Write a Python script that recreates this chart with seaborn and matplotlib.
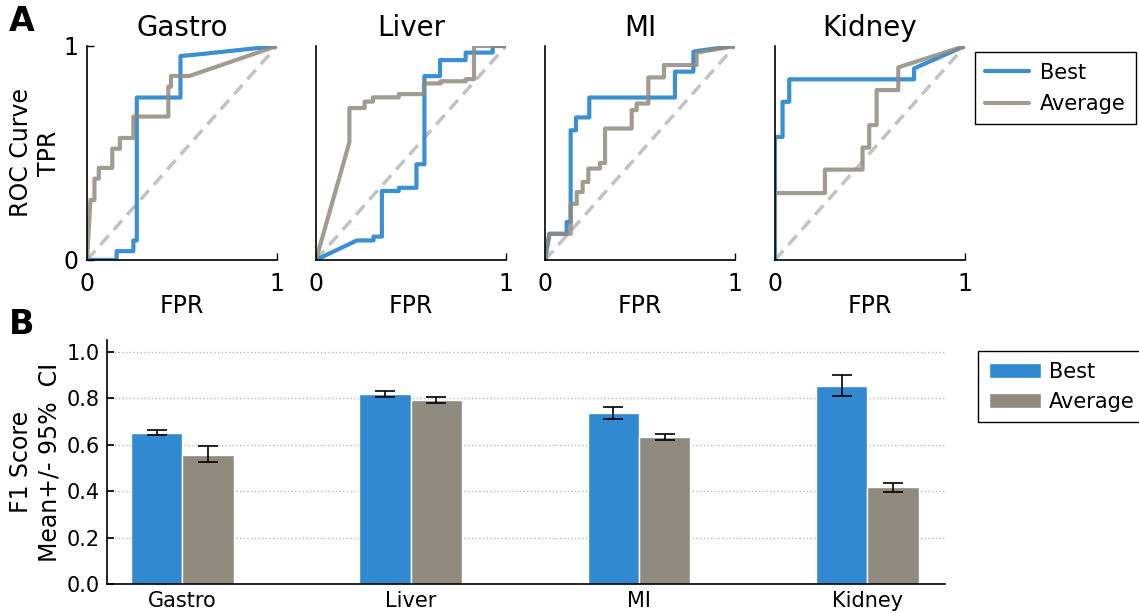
import matplotlib
matplotlib.use("Agg")
import matplotlib.pyplot as plt
import seaborn as sns
import pandas as pd

# ROC curve vertices (fpr, tpr)
gastro_best_fpr = [0, 0.156, 0.156, 0.244, 0.244, 0.262, 0.262, 0.492, 0.492, 0.60, 1.0]
gastro_best_tpr = [0, 0, 0.041, 0.041, 0.091, 0.091, 0.759, 0.759, 0.953, 0.962, 1.0]
gastro_avg_fpr = [0, 0.018, 0.039, 0.039, 0.062, 0.062, 0.133, 0.133, 0.173, 0.173,
                  0.244, 0.244, 0.428, 0.428, 0.442, 0.442, 0.54, 1.0]
gastro_avg_tpr = [0, 0.28, 0.28, 0.38, 0.38, 0.43, 0.43, 0.52, 0.52, 0.57,
                  0.57, 0.67, 0.67, 0.81, 0.81, 0.86, 0.86, 1.0]

liver_best_fpr = [0, 0.215, 0.303, 0.303, 0.347, 0.347, 0.436, 0.436, 0.529, 0.529,
                  0.571, 0.571, 0.653, 0.653, 0.788, 0.788, 0.93, 0.93, 1.0]
liver_best_tpr = [0, 0.091, 0.091, 0.109, 0.109, 0.322, 0.322, 0.337, 0.337, 0.447,
                  0.447, 0.859, 0.859, 0.934, 0.934, 0.969, 0.969, 1.0, 1.0]
liver_avg_fpr = [0, 0.176, 0.176, 0.256, 0.256, 0.30, 0.30, 0.436, 0.436, 0.568,
                 0.568, 0.656, 0.656, 0.788, 0.788, 0.832, 0.832, 1.0]
liver_avg_tpr = [0, 0.55, 0.71, 0.71, 0.74, 0.74, 0.76, 0.76, 0.775, 0.775,
                 0.825, 0.825, 0.835, 0.835, 0.845, 0.845, 1.0, 1.0]

mi_best_fpr = [0, 0.023, 0.114, 0.114, 0.135, 0.135, 0.163, 0.163, 0.233, 0.233,
               0.684, 0.684, 0.781, 0.781, 0.81, 1.0]
mi_best_tpr = [0, 0.122, 0.122, 0.177, 0.177, 0.606, 0.606, 0.666, 0.666, 0.759,
               0.759, 0.88, 0.88, 0.973, 0.978, 1.0]
mi_avg_fpr = [0, 0.023, 0.135, 0.135, 0.167, 0.167, 0.198, 0.198, 0.228, 0.228,
              0.289, 0.289, 0.316, 0.316, 0.456, 0.456, 0.482, 0.482, 0.544, 0.544,
              0.626, 0.626, 0.798, 0.798, 1.0]
mi_avg_tpr = [0, 0.122, 0.122, 0.262, 0.262, 0.317, 0.317, 0.364, 0.364, 0.427,
              0.427, 0.453, 0.453, 0.614, 0.614, 0.70, 0.70, 0.731, 0.731, 0.853,
              0.853, 0.911, 0.911, 0.969, 1.0]

kidney_best_fpr = [0, 0, 0.04, 0.04, 0.075, 0.075, 0.732, 0.732, 1.0]
kidney_best_tpr = [0, 0.575, 0.575, 0.739, 0.739, 0.844, 0.844, 0.895, 1.0]
kidney_avg_fpr = [0, 0, 0.263, 0.263, 0.461, 0.461, 0.496, 0.496, 0.535, 0.535,
                  0.649, 0.649, 1.0]
kidney_avg_tpr = [0.09, 0.3125, 0.3125, 0.422, 0.422, 0.525, 0.525, 0.63, 0.63, 0.794,
                  0.794, 0.90, 1.0]

tissues = ["Gastro", "Liver", "MI", "Kidney"]
models = ["Best", "Average"]

# F1 bars: mean and 95% CI bounds
f1_best = [0.649, 0.817, 0.737, 0.853]
f1_best_lo = [0.642, 0.805, 0.710, 0.807]
f1_best_hi = [0.664, 0.830, 0.762, 0.900]
f1_avg = [0.556, 0.792, 0.634, 0.418]
f1_avg_lo = [0.524, 0.780, 0.620, 0.395]
f1_avg_hi = [0.593, 0.805, 0.645, 0.435]

BLUE = "#3189d1"
GRAY = "#8f8b7e"

sns.set_theme(style="ticks")
plt.rcParams["font.family"] = ["DejaVu Sans"]
for key in ["text.color", "axes.labelcolor", "xtick.color", "ytick.color"]:
    plt.rcParams[key] = "black"

fig = plt.figure(figsize=(11.39, 6.13), dpi=100)

roc = {
    "Gastro": (gastro_best_fpr, gastro_best_tpr, gastro_avg_fpr, gastro_avg_tpr),
    "Liver": (liver_best_fpr, liver_best_tpr, liver_avg_fpr, liver_avg_tpr),
    "MI": (mi_best_fpr, mi_best_tpr, mi_avg_fpr, mi_avg_tpr),
    "Kidney": (kidney_best_fpr, kidney_best_tpr, kidney_avg_fpr, kidney_avg_tpr),
}

lefts = [0.0764, 0.2774, 0.4785, 0.6804]
for i, (name, left) in enumerate(zip(tissues, lefts)):
    ax = fig.add_axes([left, 0.576, 0.1668, 0.349])
    bf, bt, af, at = roc[name]
    ax.plot([0, 1], [0, 1], ls=(0, (3.6, 2.2)), color="#c2c2c2", lw=2.5, zorder=1)
    sns.lineplot(x=bf, y=bt, sort=False, estimator=None, ax=ax, color=BLUE,
                 lw=3, alpha=0.95, label="Best" if i == 0 else None, legend=False)
    sns.lineplot(x=af, y=at, sort=False, estimator=None, ax=ax, color=GRAY,
                 lw=3, alpha=0.85, label="Average" if i == 0 else None, legend=False)
    ax.set_xlim(0, 1)
    ax.set_ylim(0, 1)
    ax.set_xticks([0, 1])
    ax.set_xticklabels(["0", "1"])
    ax.set_yticks([0, 1] if i == 0 else [])
    if i == 0:
        ax.set_yticklabels(["0", "1"])
        ax.set_ylabel("ROC Curve\nTPR", fontsize=17, labelpad=2)
    ax.set_xlabel("FPR", fontsize=17, labelpad=-2)
    ax.set_title(name, fontsize=20, pad=7)
    ax.tick_params(direction="in", labelsize=17, length=5, width=1)
    ax.tick_params(axis="x", pad=9)
    ax.tick_params(axis="y", pad=6)
    for s in ["top", "right"]:
        ax.spines[s].set_visible(False)
    for s in ["left", "bottom"]:
        ax.spines[s].set_color("black")
        ax.spines[s].set_linewidth(1.2)
    if i == 0:
        handles, labels = ax.get_legend_handles_labels()

fig.legend(handles, labels, loc="upper left", bbox_to_anchor=(0.856, 0.915),
           bbox_transform=fig.transFigure, fontsize=15, fancybox=False,
           edgecolor="black", framealpha=1, handlelength=2.1, borderpad=0.5,
           labelspacing=0.55, handletextpad=0.5, borderaxespad=0)

# bar panel
df = pd.DataFrame({
    "tissue": tissues * 2,
    "model": ["Best"] * 4 + ["Average"] * 4,
    "f1": f1_best + f1_avg,
})
axb = fig.add_axes([0.0939, 0.0473, 0.7357, 0.398])
sns.barplot(data=df, x="tissue", y="f1", hue="model", order=tissues, hue_order=models,
            palette=[BLUE, GRAY], width=0.45, errorbar=None, ax=axb,
            edgecolor="white", linewidth=1, saturation=1)
lo = [f1_best_lo, f1_avg_lo]
hi = [f1_best_hi, f1_avg_hi]
mean = [f1_best, f1_avg]
bar_conts = list(axb.containers)
for k, cont in enumerate(bar_conts):
    xs = [p.get_x() + p.get_width() / 2 for p in cont.patches]
    yerr = [[m - l for m, l in zip(mean[k], lo[k])], [h - m for m, h in zip(mean[k], hi[k])]]
    axb.errorbar(xs, mean[k], yerr=yerr, fmt="none", ecolor="black", elinewidth=1.2,
                 capsize=7, capthick=1.2, zorder=5)
axb.set_xlim(-0.33, 3.34)
axb.set_ylim(0, 1.05)
axb.set_yticks([0, 0.2, 0.4, 0.6, 0.8, 1.0])
axb.set_yticklabels(["0.0", "0.2", "0.4", "0.6", "0.8", "1.0"])
axb.yaxis.grid(True, ls=":", color="#b8b8b8", lw=1)
axb.set_axisbelow(True)
axb.set_xlabel("")
axb.set_ylabel("F1 Score\nMean+/- 95%  CI", fontsize=17, labelpad=4)
axb.tick_params(axis="y", direction="in", labelsize=15, length=5, pad=5)
axb.tick_params(axis="x", length=0, labelsize=15, pad=5)
for s in ["top", "right"]:
    axb.spines[s].set_visible(False)
for s in ["left", "bottom"]:
    axb.spines[s].set_color("black")
    axb.spines[s].set_linewidth(1.2)
h2, l2 = axb.get_legend_handles_labels()
if axb.get_legend() is not None:
    axb.get_legend().remove()
fig.legend(h2, l2, loc="upper left", bbox_to_anchor=(0.859, 0.427),
           bbox_transform=fig.transFigure, fontsize=15, fancybox=False,
           edgecolor="black", framealpha=1, handlelength=2.5, handleheight=0.75,
           borderpad=0.5, labelspacing=0.5, handletextpad=0.4, borderaxespad=0)

fig.text(0.008, 0.965, "A", fontsize=24, fontweight="bold", va="center")
fig.text(0.008, 0.47, "B", fontsize=24, fontweight="bold", va="center")

fig.savefig("out.png", dpi=100)
